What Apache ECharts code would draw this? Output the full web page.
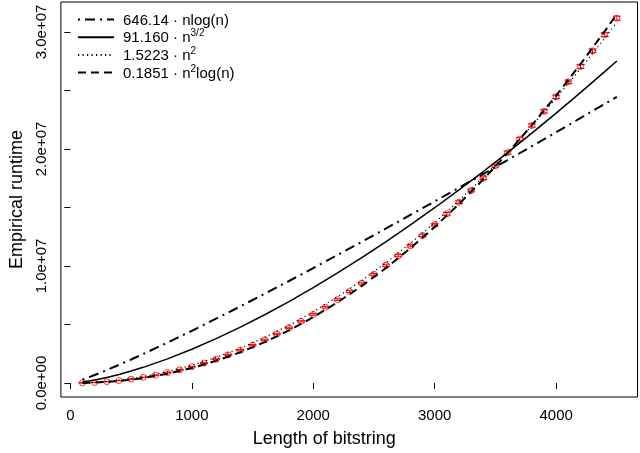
<!DOCTYPE html>
<html>
<head>
<meta charset="utf-8">
<script src="https://cdn.jsdelivr.net/npm/echarts@6/dist/echarts.min.js"></script>
<style>
html,body{margin:0;padding:0;background:#fff;}
#c{width:640px;height:453px;}
</style>
</head>
<body>
<div id="c"></div>
<script>
// ---- data (runtime values in millions) ----
const sizes = [100,200,300,400,500,600,700,800,900,1000,1100,1200,1300,1400,1500,1600,1700,1800,1900,2000,2100,2200,2300,2400,2500,2600,2700,2800,2900,3000,3100,3200,3300,3400,3500,3600,3700,3800,3900,4000,4100,4200,4300,4400,4500];
const runtime = [0.012,0.050,0.116,0.211,0.334,0.487,0.670,0.883,1.126,1.400,1.705,2.041,2.408,2.806,3.236,3.697,4.189,4.714,5.270,5.858,6.479,7.131,7.816,8.533,9.283,10.065,10.880,11.727,12.607,13.519,14.465,15.443,16.454,17.499,18.576,19.687,20.830,22.007,23.217,24.460,25.737,27.047,28.391,29.768,31.178];
const runtimeErr = [0.01,0.01,0.01,0.01,0.02,0.02,0.02,0.03,0.03,0.03,0.04,0.04,0.04,0.05,0.05,0.05,0.06,0.06,0.06,0.07,0.07,0.07,0.08,0.08,0.08,0.09,0.09,0.10,0.10,0.10,0.11,0.11,0.12,0.12,0.12,0.13,0.13,0.14,0.14,0.15,0.15,0.16,0.16,0.17,0.17];

const curveN = [100,200,300,400,500,600,800,1000,1200,1400,1600,1800,2000,2200,2400,2600,2800,3000,3200,3400,3600,3800,4000,4200,4400,4500];
const fitNlogN = [0.2976,0.6847,1.1056,1.5485,2.0078,2.4800,3.4554,4.4634,5.4974,6.5531,7.6273,8.7177,9.8225,10.9402,12.0697,13.2100,14.3603,15.5198,16.6878,17.8640,19.0478,20.2388,21.4363,22.6406,23.8512,24.4584];
const fitN32 = [0.0912,0.2578,0.4737,0.7293,1.0192,1.3398,2.0627,2.8827,3.7895,4.7753,5.8342,6.9617,8.1536,9.4067,10.7182,12.0855,13.5065,14.9791,16.5017,18.0727,19.6906,21.3540,23.0619,24.8129,26.6062,27.5184];
const fitN2 = [0.0152,0.0609,0.1370,0.2436,0.3806,0.5480,0.9743,1.5223,2.1921,2.9837,3.8971,4.9323,6.0892,7.3679,8.7684,10.2907,11.9348,13.7007,15.5884,17.5978,19.7290,21.9820,24.3568,26.8534,29.4717,30.8266];
const fitN2logN = [0.0085,0.0392,0.0950,0.1774,0.2876,0.4263,0.7919,1.2787,1.8898,2.6282,3.4960,4.4952,5.6277,6.8949,8.2982,9.8392,11.5187,13.3379,15.2978,17.3994,19.6440,22.0318,24.5635,27.2406,30.0637,31.5296];

const xTickValues = [0,1000,2000,3000,4000];
const xTickLabels = ['0','1000','2000','3000','4000'];
const yTickValues = [0,5,10,15,20,25,30];
const yLabelValues = [0,10,20,30];
const yTickLabels = ['0.0e+00','1.0e+07','2.0e+07','3.0e+07'];

const legendNames = ['646.14 · nlog(n)','91.160 · n^{3/2}','1.5223 · n^2','0.1851 · n^2 log(n)'];
const legendRich = [
  '{b|646.14 · nlog(n)}',
  '{b|91.160 · n}{s|3/2}',
  '{b|1.5223 · n}{s|2}',
  '{b|0.1851 · n}{s|2}{b|log(n)}'
];

const FONT = '"Liberation Sans", Arial, Helvetica, sans-serif';

function pairs(xs, ys){ return xs.map((x,i)=>[x, ys[i]]); }

const chart = echarts.init(document.getElementById('c'), null, {renderer:'canvas'});
const option = {
  animation: false,
  backgroundColor: '#fff',
  textStyle: {fontFamily: FONT},
  grid: {left: 57.5, top: 2, width: 580, height: 395.5, show: true, borderColor: '#000', borderWidth: 1, backgroundColor: 'transparent'},
  xAxis: {
    type: 'value', min: -78, max: 4670,
    axisLine: {show: false},
    splitLine: {show: false},
    axisTick: {show: true, inside: false, length: 6, customValues: xTickValues, lineStyle: {color: '#000', width: 1}},
    axisLabel: {show: true, margin: 11, customValues: xTickValues, color: '#000', fontSize: 15, fontFamily: FONT,
      formatter: v => xTickLabels[xTickValues.indexOf(v)] ?? ''},
    name: 'Length of bitstring', nameLocation: 'middle', nameGap: 33,
    nameTextStyle: {color: '#000', fontSize: 18, fontFamily: FONT, padding: [0, 50, 0, 0]}
  },
  yAxis: {
    type: 'value', min: -1.195, max: 32.56,
    axisLine: {show: false},
    splitLine: {show: false},
    axisTick: {show: true, inside: false, length: 6, customValues: yTickValues, lineStyle: {color: '#000', width: 1}},
    axisLabel: {show: true, margin: 12, rotate: 90, customValues: yLabelValues, color: '#000', fontSize: 15, fontFamily: FONT,
      formatter: v => yTickLabels[yLabelValues.indexOf(v)] ?? ''},
    name: 'Empirical runtime', nameLocation: 'middle', nameGap: 34,
    nameTextStyle: {color: '#000', fontSize: 18, fontFamily: FONT}
  },
  legend: {
    orient: 'vertical', left: 72, top: 8, itemWidth: 36, itemHeight: 12, itemGap: 0.7,
    selectedMode: false,
    data: legendNames,
    itemStyle: {opacity: 0},
    formatter: name => legendRich[legendNames.indexOf(name)],
    textStyle: {
      color: '#000', fontFamily: FONT, fontSize: 15, padding: [0,0,0,4],
      rich: {
        b: {fontSize: 15, fontFamily: FONT, color: '#000', lineHeight: 17, verticalAlign: 'bottom'},
        s: {fontSize: 10, fontFamily: FONT, color: '#000', lineHeight: 10, verticalAlign: 'top'}
      }
    }
  },
  series: [
    {
      type: 'custom', name: 'err', z: 2, silent: true,
      data: sizes.map((n,i)=>[n, runtime[i], runtimeErr[i]]),
      renderItem: (params, api) => {
        const x = api.value(0), y = api.value(1), e = api.value(2);
        const lo = api.coord([x, y - e]);
        const hi = api.coord([x, y + e]);
        const style = {stroke: '#ff0000', lineWidth: 1};
        return {type: 'group', children: [
          {type: 'line', shape: {x1: lo[0], y1: lo[1], x2: hi[0], y2: hi[1]}, style},
          {type: 'line', shape: {x1: lo[0]-4, y1: lo[1], x2: lo[0]+4, y2: lo[1]}, style},
          {type: 'line', shape: {x1: hi[0]-4, y1: hi[1], x2: hi[0]+4, y2: hi[1]}, style}
        ]};
      }
    },
    {
      type: 'scatter', name: 'runtime', z: 3, silent: true,
      data: pairs(sizes, runtime),
      symbol: 'circle', symbolSize: 6,
      itemStyle: {color: 'rgba(0,0,0,0)', borderColor: '#ff0000', borderWidth: 1}
    },
    {
      type: 'line', name: legendNames[0], z: 4, symbol: 'none', silent: true,
      data: pairs(curveN, fitNlogN),
      itemStyle: {color: 'rgba(0,0,0,0)'},
      lineStyle: {color: '#000', width: 2, type: [2,5,10,5]}
    },
    {
      type: 'line', name: legendNames[1], z: 4, symbol: 'none', silent: true,
      data: pairs(curveN, fitN32),
      itemStyle: {color: 'rgba(0,0,0,0)'},
      lineStyle: {color: '#000', width: 1.5, type: 'solid'}
    },
    {
      type: 'line', name: legendNames[2], z: 4, symbol: 'none', silent: true,
      data: pairs(curveN, fitN2),
      itemStyle: {color: 'rgba(0,0,0,0)'},
      lineStyle: {color: '#000', width: 1.2, type: [1.2,3.3]}
    },
    {
      type: 'line', name: legendNames[3], z: 4, symbol: 'none', silent: true,
      data: pairs(curveN, fitN2logN),
      itemStyle: {color: 'rgba(0,0,0,0)'},
      lineStyle: {color: '#000', width: 2, type: [8,5]}
    }
  ]
};
chart.setOption(option);
</script>
</body>
</html>
